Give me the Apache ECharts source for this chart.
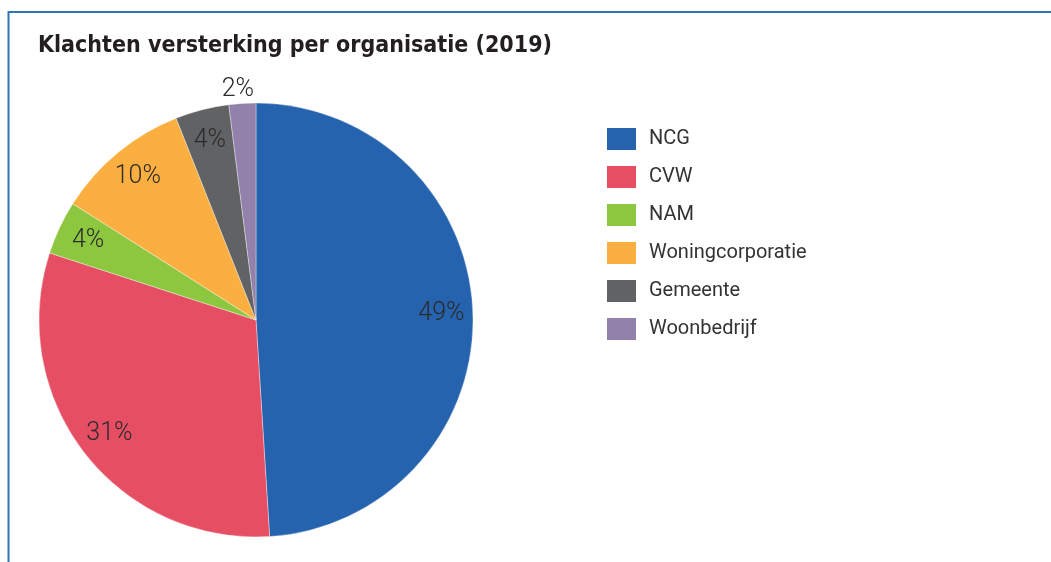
<!DOCTYPE html>
<html>
<head>
<meta charset="utf-8">
<script src="https://cdn.jsdelivr.net/npm/echarts@6/dist/echarts.min.js"></script>
<style>
  html, body { margin: 0; padding: 0; background: #fff; }
  #chart { width: 1051px; height: 562px; }
</style>
</head>
<body>
<div id="chart"></div>
<script>
// data
const organisaties = ["NCG", "CVW", "NAM", "Woningcorporatie", "Gemeente", "Woonbedrijf"]
const aandelen = [49, 31, 4, 10, 4, 2]
const kleuren = ["#2563ae", "#e64f63", "#8dc63f", "#fbaf41", "#616264", "#9181ab"]

const chart = echarts.init(document.getElementById("chart"))

const pieData = organisaties.map((naam, i) => ({
  name: naam,
  value: aandelen[i],
  itemStyle: { color: kleuren[i] }
}))

// labels via onzichtbare ring, kleinste segment buiten de taart
const labelData = organisaties.map((naam, i) => {
  const item = { name: naam, value: aandelen[i] }
  if (aandelen[i] < 3) {
    item.label = { position: "outside", distanceToLabelLine: 0, offset: [12, -9] }
    item.labelLine = { show: false, length: 5, length2: 0 }
  }
  return item
})

const option = {
  animation: false,
  title: {
    text: "Klachten versterking per organisatie (2019)",
    left: 33,
    top: 30,
    textStyle: {
      fontFamily: "'Liberation Sans Narrow', 'DejaVu Sans Condensed', sans-serif",
      fontWeight: "bold",
      fontSize: 23,
      color: "#231f20"
    }
  },
  legend: {
    orient: "vertical",
    left: 607,
    top: 128,
    padding: 0,
    itemWidth: 29,
    itemHeight: 22,
    itemGap: 16,
    itemStyle: { borderWidth: 0 },
    icon: "rect",
    data: organisaties,
    textStyle: {
      fontFamily: "Roboto, 'Liberation Sans', sans-serif",
      fontSize: 20,
      color: "#333",
      padding: [0, 0, 0, 8]
    }
  },
  graphic: [
    {
      type: "polyline",
      shape: { points: [[8.5, 562], [8.5, 12], [1051, 12]] },
      style: { stroke: "#2f75b5", lineWidth: 2, fill: null },
      silent: true
    }
  ],
  series: [
    {
      type: "pie",
      center: [256, 320],
      radius: 217,
      startAngle: 90,
      clockwise: true,
      label: { show: false },
      labelLine: { show: false },
      itemStyle: { borderColor: "rgba(255,255,255,0.6)", borderWidth: 0.6 },
      emphasis: { disabled: true },
      data: pieData
    },
    {
      type: "pie",
      center: [256, 320],
      radius: [148, 217],
      startAngle: 90,
      clockwise: true,
      silent: true,
      legendHoverLink: false,
      itemStyle: { color: "rgba(0,0,0,0)", borderWidth: 0 },
      label: {
        show: true,
        position: "inside",
        formatter: "{c}%",
        fontFamily: "Roboto, 'Liberation Sans', sans-serif",
        fontWeight: 300,
        fontSize: 25,
        color: "#2b2b2b"
      },
      emphasis: { disabled: true },
      data: labelData
    }
  ]
}

chart.setOption(option)
</script>
</body>
</html>
